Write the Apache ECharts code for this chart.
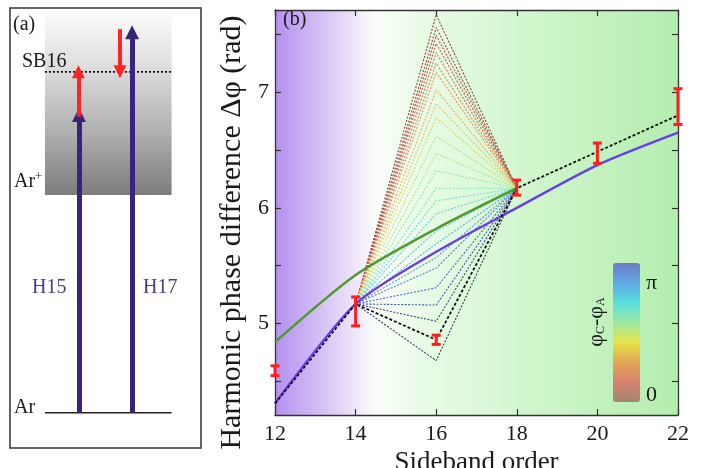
<!DOCTYPE html>
<html>
<head>
<meta charset="utf-8">
<script src="https://cdn.jsdelivr.net/npm/echarts@6/dist/echarts.min.js"></script>
<style>
  html, body { margin: 0; padding: 0; background: #ffffff; }
  #chart { width: 702px; height: 468px; }
</style>
</head>
<body>
<div id="chart"></div>
<script>
// ---- panel (b): harmonic phase difference vs sideband order ----
const sidebandOrders = [12, 14, 16, 18, 20, 22];
const measuredLow  = [4.55, 4.98, 4.82, 6.11, 6.385, 6.72];
const measuredHigh = [4.635, 5.23, 4.90, 6.24, 6.56, 7.03];

// retrieved phase (black dashed)
const fitOrders = [12, 14, 16, 18, 20, 22];
const fitPhase  = [4.31, 5.17, 4.86, 6.17, 6.485, 6.80];

// long-trajectory model (violet)
const longOrders = [12, 14, 16, 18, 20, 22];
const longPhase  = [4.31, 5.17, 5.62, 6.00, 6.37, 6.65];

// short-trajectory model (green)
const shortOrders = [12, 14, 16, 18];
const shortPhase  = [4.84, 5.42, 5.82, 6.17];

// fan of solutions for different φC-φA, pivoting at SB14 and SB18
const fanOrders = [14, 16, 18];
const fanStart = 5.17;
const fanEnd = 6.17;
const fanApex = [7.67, 7.56, 7.49, 7.42, 7.34, 7.25, 7.17, 7.02, 6.90, 6.78, 6.62, 6.47,
                 6.32, 6.17, 6.06, 5.95, 5.80, 5.69, 5.57, 5.48, 5.31, 5.16, 5.02, 4.68];

const yTickValues = [4.5, 5, 5.5, 6, 6.5, 7, 7.5];
const yLabelValues = [5, 6, 7];

// colour scales for φC-φA from 0 to π
const fanPalette = ['#8a4440', '#c45a4a', '#de9468', '#e2d456', '#a8e898', '#62dcd6', '#62a4e6', '#4a66b8', '#323f58'];
const barPalette = ['#a58474', '#d8826e', '#e2a656', '#e6e446', '#9ee8a4', '#58e0dc', '#60a8e6', '#6c7cc2'];

// ---- panel (a): energy-level sketch (sketch units) ----
const groundLevel = 8;
const ionLevel = 57.5;
const continuumTop = 98.4;
const h15Level = 75.7;
const sb16Level = 85.5;
const h17Level = 94.5;
const irUpFrom = 75.3;
const irDownFrom = 95.2;
const ladderLeft = 18.3;
const ladderRight = 84.6;
const h15Slot = 36.1;
const h17Slot = 63.9;
const irUpSlot = 35.8;
const irDownSlot = 57.6;

const serif = 'Liberation Serif';
const axisColor = '#333333';

const chart = echarts.init(document.getElementById('chart'), null, { renderer: 'canvas' });

const series = [];

// fan lines
fanApex.forEach(function (apex, i) {
  const t = i / (fanApex.length - 1);
  series.push({
    type: 'line',
    xAxisIndex: 0, yAxisIndex: 0,
    data: [[fanOrders[0], fanStart], [fanOrders[1], apex], [fanOrders[2], fanEnd]],
    symbol: 'none',
    silent: true,
    z: 2,
    lineStyle: { color: echarts.color.lerp(t, fanPalette), width: 1.1, type: [2, 1.5], opacity: 1 }
  });
});

function pairs(xs, ys) { return xs.map(function (x, i) { return [x, ys[i]]; }); }

series.push({
  type: 'line', xAxisIndex: 0, yAxisIndex: 0, z: 3, symbol: 'none', smooth: 0.25,
  data: pairs(shortOrders, shortPhase),
  lineStyle: { color: '#4f9a2c', width: 2.4 }
});
series.push({
  type: 'line', xAxisIndex: 0, yAxisIndex: 0, z: 3, symbol: 'none', smooth: 0.25,
  data: pairs(longOrders, longPhase),
  lineStyle: { color: '#6a3ee6', width: 2.4 }
});
series.push({
  type: 'line', xAxisIndex: 0, yAxisIndex: 0, z: 4, symbol: 'none',
  data: pairs(fitOrders, fitPhase),
  lineStyle: { color: '#111111', width: 1.8, type: [3, 2] }
});

// error bars
series.push({
  type: 'custom', xAxisIndex: 0, yAxisIndex: 0, z: 6, clip: false,
  data: sidebandOrders.map(function (x, i) { return [x, measuredLow[i], measuredHigh[i]]; }),
  encode: { x: 0, y: [1, 2] },
  renderItem: function (params, api) {
    const x = api.value(0);
    const lo = api.coord([x, api.value(1)]);
    const hi = api.coord([x, api.value(2)]);
    const cap = 4.5;
    const st = { stroke: '#ff1e1e', lineWidth: 3 };
    return {
      type: 'group',
      children: [
        { type: 'line', shape: { x1: lo[0], y1: lo[1], x2: hi[0], y2: hi[1] }, style: st },
        { type: 'line', shape: { x1: lo[0] - cap, y1: lo[1], x2: lo[0] + cap, y2: lo[1] }, style: st },
        { type: 'line', shape: { x1: hi[0] - cap, y1: hi[1], x2: hi[0] + cap, y2: hi[1] }, style: st }
      ]
    };
  }
});

// ---- sketch series ----
series.push({
  type: 'custom', xAxisIndex: 2, yAxisIndex: 2, z: 1, silent: true,
  data: [[ladderLeft, ionLevel, ladderRight, continuumTop]],
  renderItem: function (params, api) {
    const a = api.coord([api.value(0), api.value(3)]);
    const b = api.coord([api.value(2), api.value(1)]);
    return {
      type: 'rect',
      shape: { x: a[0], y: a[1], width: b[0] - a[0], height: b[1] - a[1] },
      style: {
        fill: new echarts.graphic.LinearGradient(0, 0, 0, 1, [
          { offset: 0, color: '#fbfbfb' },
          { offset: 0.3, color: '#dcdcdc' },
          { offset: 0.65, color: '#b0b0b0' },
          { offset: 1, color: '#7c7c7c' }
        ])
      }
    };
  }
});
series.push({
  type: 'line', xAxisIndex: 2, yAxisIndex: 2, z: 2, symbol: 'none', silent: true,
  data: [[ladderLeft, sb16Level], [ladderRight, sb16Level]],
  lineStyle: { color: '#111', width: 1.8, type: [2, 2] }
});
series.push({
  type: 'line', xAxisIndex: 2, yAxisIndex: 2, z: 2, symbol: 'none', silent: true,
  data: [[ladderLeft, groundLevel], [ladderRight, groundLevel]],
  lineStyle: { color: '#222', width: 1.5 }
});
series.push({
  type: 'lines', coordinateSystem: 'cartesian2d', xAxisIndex: 2, yAxisIndex: 2, z: 3, silent: true,
  symbol: ['none', 'triangle'], symbolSize: [10, 14],
  lineStyle: { color: '#3b2379', width: 5, opacity: 1 },
  data: [
    { coords: [[h15Slot, groundLevel], [h15Slot, h15Level]] },
    { coords: [[h17Slot, groundLevel], [h17Slot, h17Level]] }
  ]
});
series.push({
  type: 'lines', coordinateSystem: 'cartesian2d', xAxisIndex: 2, yAxisIndex: 2, z: 4, silent: true,
  symbol: ['none', 'triangle'], symbolSize: [9, 13],
  lineStyle: { color: '#ff2424', width: 4, opacity: 1 },
  data: [
    { coords: [[irUpSlot, irUpFrom], [irUpSlot, sb16Level]] },
    { coords: [[irDownSlot, irDownFrom], [irDownSlot, sb16Level]] }
  ]
});

const tickStyle = { show: true, inside: true, length: 6, lineStyle: { color: axisColor, width: 1.2 } };
const lineStyleAxis = { show: true, onZero: false, lineStyle: { color: axisColor, width: 1.3 } };
const textZ = 20;

const option = {
  animation: false,
  backgroundColor: '#ffffff',
  grid: [
    {
      left: 275, top: 10, width: 403, height: 405, show: true, borderWidth: 0,
      outerBoundsMode: 'none',
      backgroundColor: new echarts.graphic.LinearGradient(0, 0, 1, 0, [
        { offset: 0, color: '#b591ee' },
        { offset: 0.1, color: '#d0baf5' },
        { offset: 0.2, color: '#efe7fb' },
        { offset: 0.25, color: '#fbfefa' },
        { offset: 0.37, color: '#e8fbe6' },
        { offset: 0.62, color: '#d2f6ce' },
        { offset: 1, color: '#b4edaf' }
      ])
    },
    {
      left: 10, top: 8, width: 191, height: 440, show: true,
      outerBoundsMode: 'none',
      borderColor: '#333', borderWidth: 1.5, backgroundColor: 'transparent'
    }
  ],
  xAxis: [
    {
      type: 'value', gridIndex: 0, position: 'bottom', min: 12, max: 22, interval: 2,
      name: 'Sideband order', nameLocation: 'middle', nameGap: 28,
      nameTextStyle: { fontFamily: serif, fontSize: 27, color: '#1a1a1a' },
      axisLine: lineStyleAxis, axisTick: tickStyle, splitLine: { show: false },
      axisLabel: { margin: 8, fontFamily: serif, fontSize: 22, color: '#1a1a1a' }
    },
    {
      type: 'value', gridIndex: 0, position: 'top', min: 12, max: 22, interval: 2,
      axisLine: lineStyleAxis, axisTick: tickStyle, splitLine: { show: false },
      axisLabel: { show: false }
    },
    {
      type: 'value', gridIndex: 1, min: 0, max: 100, show: false
    }
  ],
  yAxis: [
    {
      type: 'value', gridIndex: 0, position: 'left', min: 4.21, max: 7.71,
      name: 'Harmonic phase difference Δφ (rad)', nameLocation: 'middle', nameGap: 24,
      nameTextStyle: { fontFamily: serif, fontSize: 30, color: '#1a1a1a', padding: [0, 40, 0, 0] },
      axisLine: lineStyleAxis,
      axisTick: Object.assign({ customValues: yTickValues }, tickStyle),
      splitLine: { show: false },
      axisLabel: { customValues: yLabelValues, margin: 6, fontFamily: serif, fontSize: 22, color: '#1a1a1a' }
    },
    {
      type: 'value', gridIndex: 0, position: 'right', min: 4.21, max: 7.71,
      axisLine: lineStyleAxis,
      axisTick: Object.assign({ customValues: yTickValues }, tickStyle),
      splitLine: { show: false },
      axisLabel: { show: false }
    },
    {
      type: 'value', gridIndex: 1, min: 0, max: 100, show: false
    }
  ],
  visualMap: {
    type: 'continuous', min: 0, max: Math.PI, seriesIndex: [],
    left: 613, top: 263, itemWidth: 27, itemHeight: 139, padding: 0,
    calculable: false, hoverLink: false, showLabel: false,
    inRange: { color: barPalette }
  },
  graphic: [
    { type: 'text', z: textZ, left: 13, top: 15, style: { text: '(a)', fontFamily: serif, fontSize: 20, fill: '#1a1a1a' } },
    { type: 'text', z: textZ, left: 22, top: 52, style: { text: 'SB16', fontFamily: serif, fontSize: 20, fill: '#1a1a1a' } },
    { type: 'text', z: textZ, left: 14, top: 170, style: {
        text: '{b|Ar}{s|+}', rich: {
          b: { fontFamily: serif, fontSize: 20, fill: '#1a1a1a' },
          s: { fontFamily: serif, fontSize: 13, fill: '#1a1a1a', verticalAlign: 'top', padding: [0, 0, 10, 0] }
        } } },
    { type: 'text', z: textZ, left: 14, top: 398, style: { text: 'Ar', fontFamily: serif, fontSize: 20, fill: '#1a1a1a' } },
    { type: 'text', z: textZ, left: 32, top: 278, style: { text: 'H15', fontFamily: serif, fontSize: 20, fill: '#4a3a86' } },
    { type: 'text', z: textZ, left: 143, top: 278, style: { text: 'H17', fontFamily: serif, fontSize: 20, fill: '#4a3a86' } },
    { type: 'text', z: textZ, left: 283, top: 10, style: { text: '(b)', fontFamily: serif, fontSize: 20, fill: '#1a1a1a' } },
    { type: 'text', z: textZ, left: 646, top: 272, style: { text: 'π', fontFamily: serif, fontSize: 22, fill: '#1a1a1a' } },
    { type: 'text', z: textZ, left: 646, top: 384, style: { text: '0', fontFamily: serif, fontSize: 22, fill: '#1a1a1a' } },
    { type: 'text', z: textZ, x: 596, y: 322, rotation: Math.PI / 2, style: {
        text: '{p|φ}{s|C}{p|-φ}{s|A}', align: 'center', verticalAlign: 'middle',
        rich: {
          p: { fontFamily: serif, fontSize: 22, fill: '#1a1a1a' },
          s: { fontFamily: serif, fontSize: 12, fill: '#1a1a1a', verticalAlign: 'bottom', padding: [8, 0, 0, 0] }
        } } }
  ],
  series: series
};

chart.setOption(option);
</script>
</body>
</html>
